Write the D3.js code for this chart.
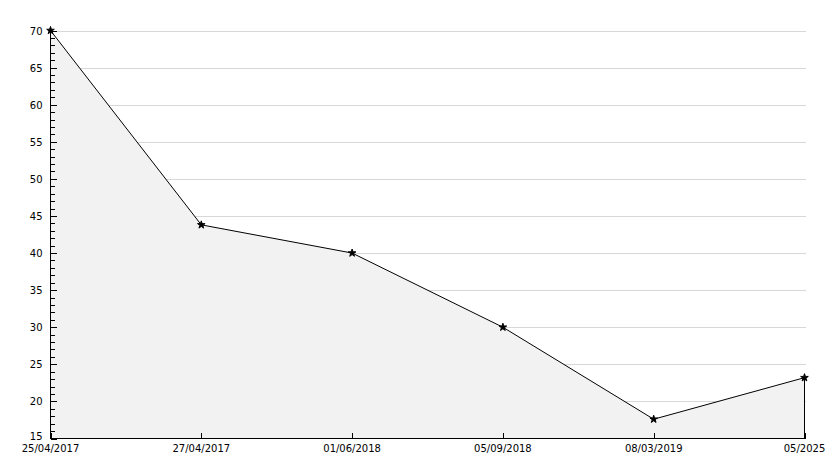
<!DOCTYPE html>
<html><head><meta charset="utf-8">
<script src="https://cdn.jsdelivr.net/npm/d3@7/dist/d3.min.js"></script>
<style>body{margin:0;background:#fff}svg{display:block}text{font-family:"DejaVu Sans",sans-serif;font-size:10px;fill:#000}</style>
</head><body><svg id="c" width="834" height="468"></svg>
<script>
const categories = ["25/04/2017","27/04/2017","01/06/2018","05/09/2018","08/03/2019","05/2025"];
const values = [70, 43.8, 40, 30, 17.6, 23.2];
const yTicks = [15,20,25,30,35,40,45,50,55,60,65,70];

const svg = d3.select("#c");
const L = 50.5, R = 804.5, T = 30.5, B = 438.5;
const x = d3.scalePoint().domain(categories).range([L, R]);
const y = d3.scaleLinear().domain([15, 70]).range([B, T]);

// grid
svg.append("g").attr("shape-rendering","crispEdges").selectAll("line").data(yTicks.filter(d=>d>15)).join("line")
  .attr("x1", L).attr("x2", R+1).attr("y1", d=>Math.round(y(d))+0.5).attr("y2", d=>Math.round(y(d))+0.5)
  .attr("stroke", "#d8d8d8");

// area
const pts = categories.map((c,i)=>[x(c), y(values[i])]);
const area = d3.area().x(d=>d[0]).y0(B).y1(d=>d[1]);
svg.append("path").datum(pts).attr("d", area).attr("fill", "#f2f2f2");
svg.append("line").attr("shape-rendering","crispEdges").attr("x1", R).attr("x2", R).attr("y1", y(values[values.length-1])).attr("y2", B).attr("stroke","#000");
svg.append("path").datum(pts).attr("d", d3.line()).attr("fill","none").attr("stroke","#000").attr("stroke-width",1);

// y axis with minor ticks
const yAxis = svg.append("g").attr("shape-rendering","crispEdges");
yAxis.append("line").attr("x1", L).attr("x2", L).attr("y1", T).attr("y2", B).attr("stroke","#000");
const minor = d3.range(15, 71, 1);
yAxis.selectAll("line.t").data(minor).join("line").attr("class","t")
  .attr("x1", L).attr("x2", d=> d%5===0 ? L+6 : L+4)
  .attr("y1", d=>Math.round(y(d))+0.5).attr("y2", d=>Math.round(y(d))+0.5).attr("stroke","#000");
yAxis.selectAll("text").data(yTicks).join("text")
  .attr("x", L-8).attr("y", d=>y(d) + (d===15 ? 1 : 4)).attr("text-anchor","end").text(d=>d);

// x axis
const xAxis = svg.append("g").attr("shape-rendering","crispEdges");
xAxis.append("line").attr("x1", L).attr("x2", R+1).attr("y1", B).attr("y2", B).attr("stroke","#000");
xAxis.selectAll("line.t").data(categories).join("line").attr("class","t")
  .attr("x1", d=>Math.round(x(d))+0.5).attr("x2", d=>Math.round(x(d))+0.5).attr("y1", B-6).attr("y2", B).attr("stroke","#000");
xAxis.selectAll("text").data(categories).join("text")
  .attr("x", d=>x(d)).attr("y", B+13).attr("text-anchor","middle").text(d=>d);

// markers
svg.append("g").selectAll("path").data(pts).join("path")
  .attr("transform", d=>`translate(${d[0]},${d[1]})`)
  .attr("d", d3.symbol(d3.symbolStar, 18)).attr("fill","#000").attr("stroke","#000").attr("stroke-width",1);
</script></body></html>
